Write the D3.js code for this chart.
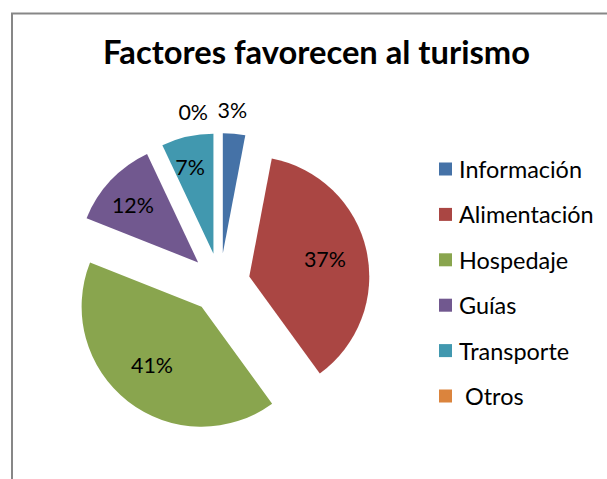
<!DOCTYPE html>
<html>
<head>
<meta charset="utf-8">
<script src="https://cdn.jsdelivr.net/npm/d3@7"></script>
<style>
  body { margin: 0; background: #fff; }
  text { font-family: Lato, "Open Sans", sans-serif; fill: #000; }
</style>
</head>
<body>
<div id="chart"></div>
<script>
// data
var categories = ["Información", "Alimentación", "Hospedaje", "Guías", "Transporte", "Otros"];
var values = [3, 37, 41, 12, 7, 0];
var colors = ["#4572A7", "#AA4643", "#89A54E", "#71588F", "#4198AF", "#DB843D"];
var titleText = "Factores favorecen al turismo";

var width = 607, height = 479;
var cx = 220, cy = 283, radius = 120, explode = 30;
// where each % label sits, as a fraction of the radius
var labelPos = [1.2, 0.68, 0.62, 0.7, 0.74, 1.2];

var svg = d3.select("#chart").append("svg")
    .attr("width", width)
    .attr("height", height);

// frame (only top and left edges visible in the crop)
svg.append("path")
    .attr("d", "M12,479 V13.5 H607")
    .attr("fill", "none")
    .attr("stroke", "#878787")
    .attr("stroke-width", 2);

// fit a font size so a string gets a given width
function fitSize(str, target, weight) {
  var t = svg.append("text").attr("font-size", 100).attr("font-weight", weight || "normal").text(str);
  var w = t.node().getComputedTextLength();
  t.remove();
  return 100 * target / w;
}

var titleSize = fitSize(titleText, 427, "bold");
svg.append("text")
    .attr("x", 316.5)
    .attr("y", 64)
    .attr("text-anchor", "middle")
    .attr("font-weight", "bold")
    .attr("font-size", titleSize)
    .text(titleText);

var pie = d3.pie().sort(null).value(function(d) { return d; });
var arc = d3.arc().innerRadius(0).outerRadius(radius);
var arcs = pie(values);

function offset(d, dist) {
  var a = (d.startAngle + d.endAngle) / 2;
  return [Math.sin(a) * dist, -Math.cos(a) * dist];
}

var g = svg.append("g").attr("transform", "translate(" + cx + "," + cy + ")");

g.selectAll(".slice")
  .data(arcs)
  .enter().append("path")
    .attr("class", "slice")
    .attr("transform", function(d) { var o = offset(d, explode); return "translate(" + o[0] + "," + o[1] + ")"; })
    .attr("d", arc)
    .attr("fill", function(d, i) { return colors[i]; });

var labelSize = fitSize("37%", 42);
g.selectAll(".lbl")
  .data(arcs)
  .enter().append("text")
    .attr("class", "lbl")
    .attr("font-size", labelSize)
    .attr("dominant-baseline", "central")
    .attr("text-anchor", function(d, i) { return values[i] === 0 ? "end" : "middle"; })
    .attr("x", function(d, i) {
      var o = offset(d, explode), l = offset(d, radius * labelPos[i]);
      return o[0] + l[0] + (values[i] === 0 ? -12 : -4);
    })
    .attr("y", function(d, i) {
      var o = offset(d, explode), l = offset(d, radius * labelPos[i]);
      return o[1] + l[1] + (values[i] === 0 ? 3 : 0);
    })
    .text(function(d, i) { return values[i] + "%"; });

// legend
var legendSize = fitSize("Información", 123);
var ly = d3.scalePoint().domain(categories).range([169, 396]);
var leg = svg.selectAll(".leg")
  .data(categories)
  .enter().append("g")
    .attr("class", "leg")
    .attr("transform", function(d) { return "translate(439," + ly(d) + ")"; });

leg.append("rect")
    .attr("x", 0).attr("y", -6.5)
    .attr("width", 13).attr("height", 13)
    .attr("fill", function(d, i) { return colors[i]; });

leg.append("text")
    .attr("x", function(d) { return d === "Otros" ? 26 : 20; })
    .attr("y", 0)
    .attr("dominant-baseline", "central")
    .attr("font-size", legendSize)
    .text(function(d) { return d; });
</script>
</body>
</html>
